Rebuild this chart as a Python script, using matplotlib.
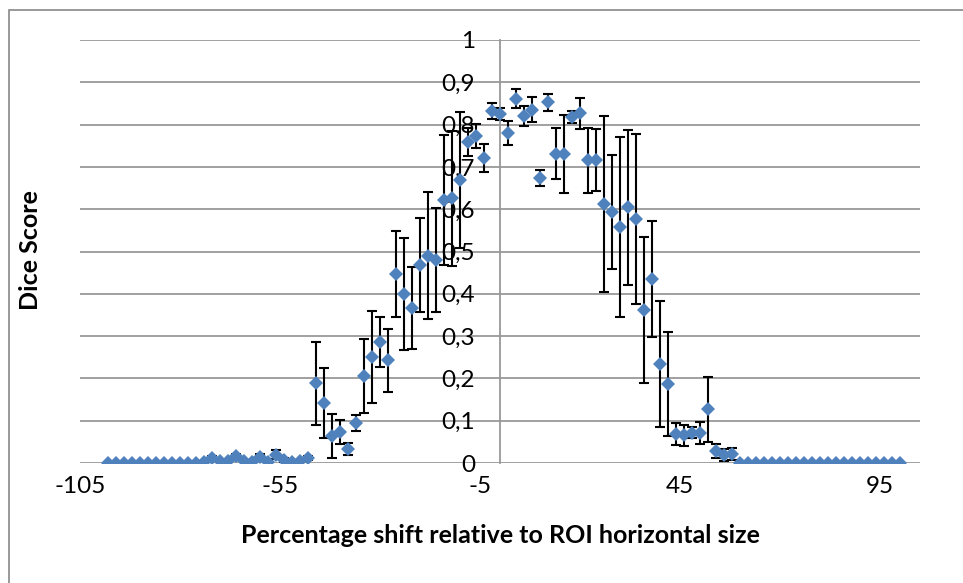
import numpy as np
import matplotlib
matplotlib.use("Agg")
import matplotlib.pyplot as plt
from matplotlib.patches import Rectangle

plt.rcParams['font.family'] = ['Lato', 'DejaVu Sans']

# shift (% of ROI width) vs mean dice score and its std deviation
shift = np.arange(-98, 101, 2)
dice = [0, 0, 0, 0, 0, 0, 0, 0, 0, 0, 0, 0,
        0.003, 0.012, 0.005, 0.005, 0.016, 0.005, 0.003, 0.014, 0.002, 0.020,
        0.007, 0.003, 0.005, 0.012,
        0.189, 0.142, 0.064, 0.073, 0.033, 0.094, 0.206, 0.251, 0.286, 0.243,
        0.447, 0.399, 0.366, 0.468, 0.490, 0.480, 0.622, 0.626, 0.669, 0.759,
        0.773, 0.721, 0.832, 0.825, 0.780, 0.861, 0.820, 0.835, 0.674, 0.853,
        0.731, 0.731, 0.818, 0.827, 0.716, 0.716, 0.612, 0.593, 0.558, 0.605,
        0.577, 0.362, 0.435, 0.234, 0.187, 0.069, 0.066, 0.071, 0.071, 0.127,
        0.028, 0.019, 0.021,
        0, 0, 0, 0, 0, 0, 0, 0, 0, 0, 0, 0, 0, 0, 0, 0, 0, 0, 0, 0, 0]
dice_sd = [0, 0, 0, 0, 0, 0, 0, 0, 0, 0, 0, 0,
           0, 0.004, 0, 0, 0.006, 0, 0, 0.007, 0, 0.011,
           0.004, 0, 0, 0.005,
           0.098, 0.083, 0.053, 0.029, 0.014, 0.019, 0.087, 0.109, 0.060, 0.074,
           0.101, 0.132, 0.097, 0.111, 0.150, 0.123, 0.153, 0.160, 0.161, 0.034,
           0.029, 0.032, 0.018, 0.015, 0.029, 0.022, 0.024, 0.030, 0.018, 0.020,
           0.060, 0.092, 0.014, 0.037, 0.077, 0.073, 0.208, 0.134, 0.213, 0.183,
           0.201, 0.172, 0.137, 0.148, 0.123, 0.026, 0.025, 0.013, 0.026, 0.077,
           0.016, 0.014, 0.015,
           0, 0, 0, 0, 0, 0, 0, 0, 0, 0, 0, 0, 0, 0, 0, 0, 0, 0, 0, 0, 0]

x_ticks = [-105, -55, -5, 45, 95]
y_ticks = [0, 0.1, 0.2, 0.3, 0.4, 0.5, 0.6, 0.7, 0.8, 0.9, 1]

dice = np.array(dice)
dice_sd = np.array(dice_sd)

fig = plt.figure(figsize=(9.63, 5.83), dpi=100)
ax = fig.add_axes([0.0831, 0.2058, 0.8722, 0.7256])

grid_col = '#989898'
for y in y_ticks:
    ax.axhline(y, color=grid_col, lw=1.3, zorder=1)

has_err = dice_sd > 0
ax.errorbar(shift[has_err], dice[has_err], yerr=dice_sd[has_err], fmt='none',
            ecolor='black', elinewidth=1.5, capsize=3.8, capthick=1.5, zorder=2)
ax.plot(shift, dice, linestyle='none', marker='D', markersize=7.6,
        color='#4f81bd', markeredgewidth=0, zorder=3)

ax.set_xlim(-105, 105)
ax.set_ylim(0, 1)

# y axis crosses at zero shift
for s in ['top', 'right', 'bottom']:
    ax.spines[s].set_visible(False)
ax.spines['left'].set_position(('data', 0))
ax.spines['left'].set_color(grid_col)
ax.spines['left'].set_linewidth(1.3)

ax.set_yticks(y_ticks)
ax.set_yticklabels([('%g' % v).replace('.', ',') for v in y_ticks])
ax.set_xticks(x_ticks)
ax.set_xticklabels([str(v) for v in x_ticks])
ax.tick_params(axis='both', length=0, labelsize=17.5)
ax.tick_params(axis='y', pad=18)
ax.tick_params(axis='x', pad=9)

ax.set_xlabel('Percentage shift relative to ROI horizontal size',
              fontsize=18, fontweight='bold', labelpad=20)
fig.text(0.032, 0.571, 'Dice Score', rotation=90, ha='center', va='center',
         fontsize=18, fontweight='bold')

# chart area outline
fig.patches.append(Rectangle((9 / 963, -0.1), 1.2, 1 - 10 / 583 + 0.1,
                             transform=fig.transFigure, fill=False,
                             edgecolor='#878787', lw=1.2))

fig.savefig('out.png', dpi=100)
